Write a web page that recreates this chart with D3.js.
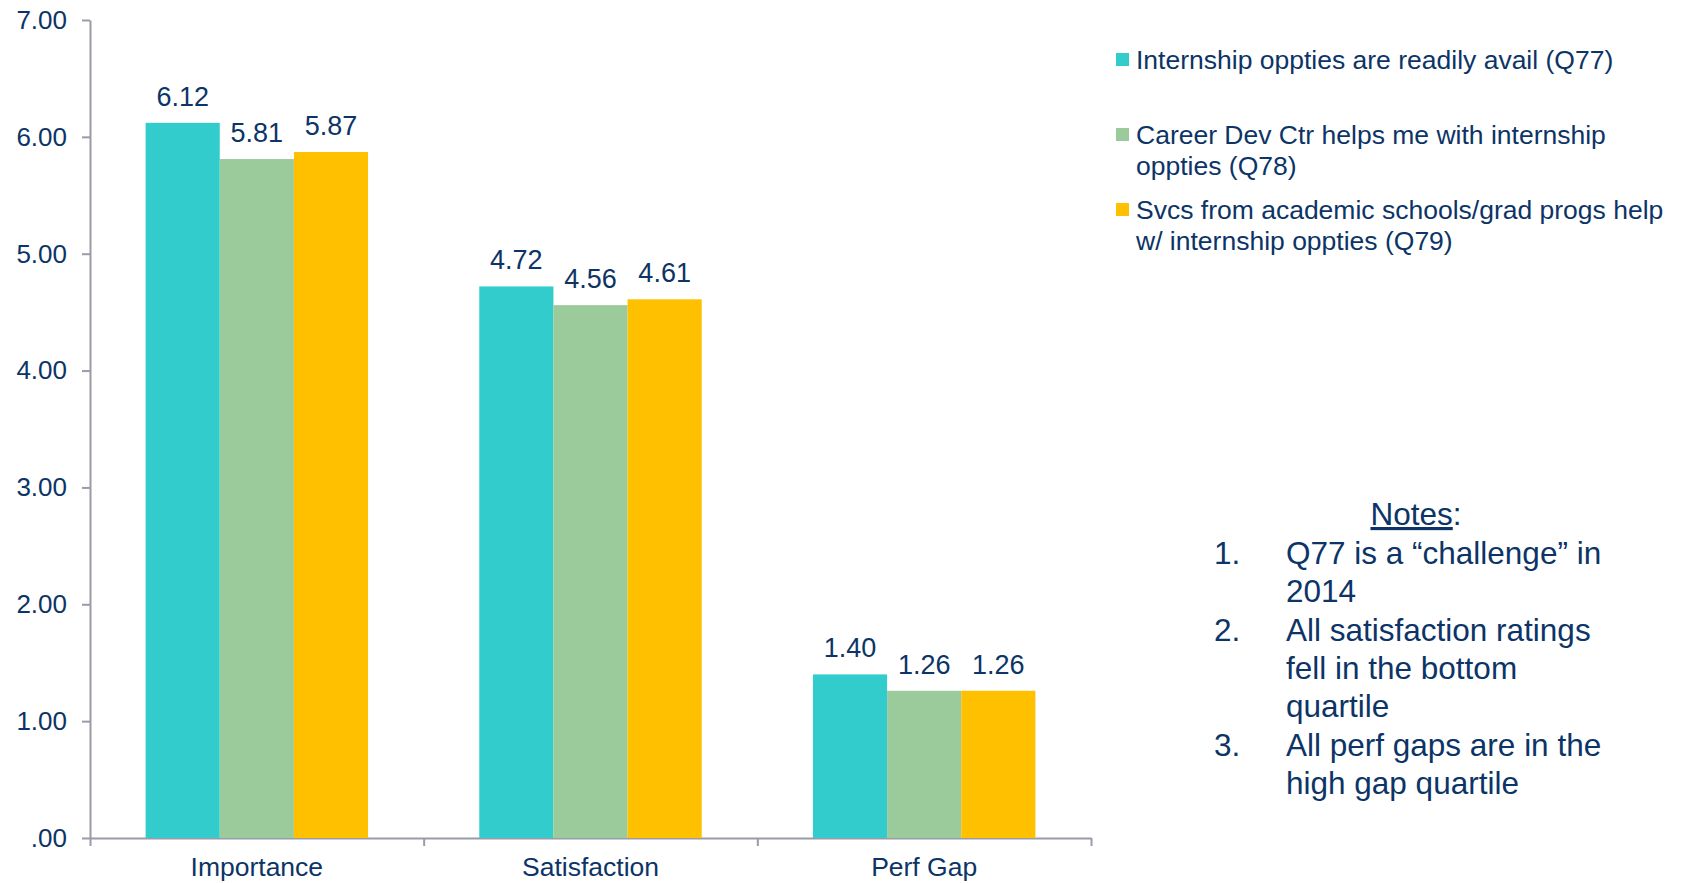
<!DOCTYPE html>
<html>
<head>
<meta charset="utf-8">
<script src="https://cdn.jsdelivr.net/npm/d3@7"></script>
<style>
  html, body { margin: 0; padding: 0; background: #fff; }
  svg { display: block; font-family: "Liberation Sans", Arial, sans-serif; }
  .axis path, .axis line { stroke: #9a9aa8; stroke-width: 2; }
  .txt { fill: #0c3466; }
</style>
</head>
<body>
<svg id="chart" width="1682" height="883"></svg>
<script>
  // chart data
  var categories = ['Importance', 'Satisfaction', 'Perf Gap'];
  var seriesNames = ['Q77', 'Q78', 'Q79'];
  var q77 = [6.12, 4.72, 1.40];
  var q78 = [5.81, 4.56, 1.26];
  var q79 = [5.87, 4.61, 1.26];
  var yTicks = [0, 1, 2, 3, 4, 5, 6, 7];
  var legendLabels = [
    ['Internship oppties are readily avail (Q77)'],
    ['Career Dev Ctr helps me with internship', 'oppties (Q78)'],
    ['Svcs from academic schools/grad progs help', 'w/ internship oppties (Q79)']
  ];
  var notes = [
    ['Q77 is a \u201cchallenge\u201d in', '2014'],
    ['All satisfaction ratings', 'fell in the bottom', 'quartile'],
    ['All perf gaps are in the', 'high gap quartile']
  ];

  var colors = ['#33cccc', '#9bcb9a', '#ffc000'];
  var values = [q77, q78, q79];

  var svg = d3.select('#chart');

  var x0 = d3.scaleBand().domain(categories).range([90, 1091]).paddingInner(0).paddingOuter(0);
  var x1 = d3.scaleBand().domain(seriesNames).range([0, x0.bandwidth()]).paddingInner(0).paddingOuter(0.75);
  var y = d3.scaleLinear().domain([0, 7]).range([838, 20]);

  // y axis
  var fmt = d3.format('.2f');
  var yAxis = svg.append('g')
    .attr('class', 'axis')
    .attr('transform', 'translate(90,0)')
    .call(d3.axisLeft(y).tickValues(yTicks).tickSize(8).tickSizeOuter(0)
      .tickFormat(function (d) { return fmt(d).replace(/^0\./, '.'); }));
  yAxis.selectAll('text')
    .attr('class', 'txt')
    .attr('x', -23)
    .style('font-size', '26px')
    .style('font-family', '"Liberation Sans", Arial, sans-serif');

  // x axis: ticks at category boundaries
  var xb = d3.scaleLinear().domain([0, categories.length]).range([90, 1091]);
  svg.append('g')
    .attr('class', 'axis')
    .attr('transform', 'translate(0,838)')
    .call(d3.axisBottom(xb).ticks(categories.length).tickSize(8).tickSizeOuter(0).tickFormat(''));

  svg.selectAll('.cat-label')
    .data(categories)
    .enter().append('text')
    .attr('class', 'txt cat-label')
    .attr('x', function (d) { return x0(d) + x0.bandwidth() / 2; })
    .attr('y', 876)
    .attr('text-anchor', 'middle')
    .style('font-size', '26.5px')
    .text(function (d) { return d; });

  // bars
  var groups = svg.selectAll('.series')
    .data(seriesNames)
    .enter().append('g')
    .attr('class', 'series')
    .attr('fill', function (d, i) { return colors[i]; });

  groups.each(function (s, si) {
    var g = d3.select(this);
    g.selectAll('rect')
      .data(categories)
      .enter().append('rect')
      .attr('x', function (c) { return x0(c) + x1(s); })
      .attr('y', function (c, ci) { return y(values[si][ci]); })
      .attr('width', x1.bandwidth())
      .attr('height', function (c, ci) { return y(0) - y(values[si][ci]); });

    g.selectAll('text')
      .data(categories)
      .enter().append('text')
      .attr('class', 'txt')
      .attr('x', function (c) { return x0(c) + x1(s) + x1.bandwidth() / 2; })
      .attr('y', function (c, ci) { return y(values[si][ci]) - 17; })
      .attr('text-anchor', 'middle')
      .style('font-size', '27px')
      .text(function (c, ci) { return fmt(values[si][ci]); });
  });

  // legend
  var legendTop = [60, 135, 210];
  var legend = svg.append('g').attr('class', 'legend');
  legendLabels.forEach(function (lines, i) {
    legend.append('rect')
      .attr('x', 1116)
      .attr('y', legendTop[i] - 7)
      .attr('width', 13)
      .attr('height', 13)
      .attr('fill', colors[i]);
    var t = legend.append('text')
      .attr('class', 'txt')
      .attr('x', 1136)
      .attr('y', legendTop[i] + 9)
      .style('font-size', '26.5px');
    lines.forEach(function (l, j) {
      t.append('tspan').attr('x', 1136).attr('dy', j ? 31 : 0).text(l);
    });
  });

  // notes
  var notesG = svg.append('g').attr('class', 'notes');
  var title = notesG.append('text')
    .attr('class', 'txt')
    .attr('x', 1416)
    .attr('y', 525)
    .attr('text-anchor', 'middle')
    .style('font-size', '31.5px');
  title.append('tspan').style('text-decoration', 'underline').text('Notes');
  title.append('tspan').text(':');

  var lineY = 564;
  notes.forEach(function (lines, i) {
    notesG.append('text')
      .attr('class', 'txt')
      .attr('x', 1214)
      .attr('y', lineY)
      .style('font-size', '31.5px')
      .text((i + 1) + '.');
    lines.forEach(function (l) {
      notesG.append('text')
        .attr('class', 'txt')
        .attr('x', 1286)
        .attr('y', lineY)
        .style('font-size', '31.5px')
        .text(l);
      lineY += 38.3;
    });
  });
</script>
</body>
</html>
